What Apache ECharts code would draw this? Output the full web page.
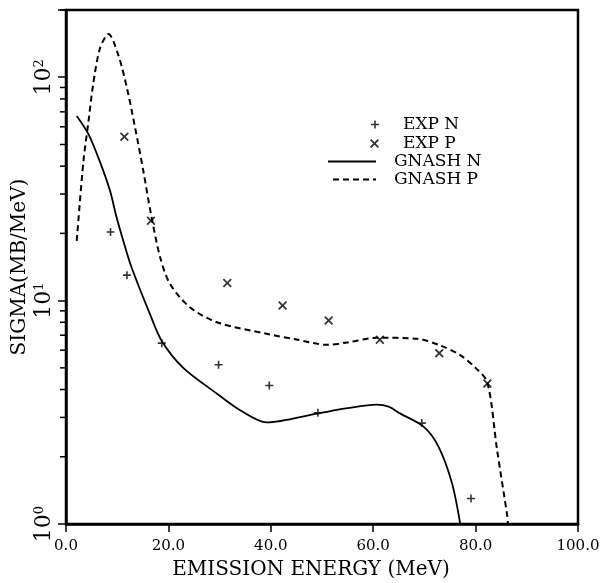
<!DOCTYPE html>
<html><head><meta charset="utf-8">
<script src="https://cdn.jsdelivr.net/npm/echarts@6/dist/echarts.min.js"></script>
<style>html,body{margin:0;padding:0;background:#fff}#c{width:607px;height:583px}</style>
</head><body><div id="c"></div>
<script>
// ---- data ----
const xTicks = [0, 20, 40, 60, 80, 100];
const yMajorTicks = [1, 10, 100];
const yMinorTicks = [2, 3, 4, 5, 6, 7, 8, 9, 20, 30, 40, 50, 60, 70, 80, 90, 200];

const expN_x = [8.7, 11.9, 18.7, 29.8, 39.7, 49.2, 69.5, 79.1];
const expN_y = [20.3, 13.0, 6.45, 5.16, 4.17, 3.15, 2.83, 1.30];

const expP_x = [11.4, 16.6, 31.5, 42.3, 51.3, 61.3, 72.9, 82.3];
const expP_y = [54.1, 22.8, 12.0, 9.5, 8.14, 6.68, 5.82, 4.26];

const gnashN_x = [2.1, 4.4, 6.6, 8.6, 9.8, 11.2, 12.8, 16.4, 18.7, 22.9, 29.5, 34.0, 39.2, 49.0, 55.0, 60.7, 63.0, 65.3, 69.9, 72.8, 75.4, 77.0];
const gnashN_y = [67, 55.5, 42, 31, 24.0, 18.5, 14.1, 8.7, 6.6, 5.0, 3.83, 3.23, 2.85, 3.12, 3.3, 3.42, 3.35, 3.12, 2.72, 2.21, 1.52, 1.0];

const gnashP_x = [2.1, 3.4, 4.4, 5.3, 6.65, 8.3, 10.2, 11.9, 13.5, 15.1, 16.6, 18.4, 20.3, 24.2, 29.5, 39.2, 45.0, 51.0, 55.0, 60.7, 68.6, 73.1, 77.0, 80.0, 82.3, 84.2, 86.2, 86.3];
const gnashP_y = [18.5, 42, 63.6, 92.8, 135, 156, 126, 89.6, 59.4, 38.1, 24.4, 15.6, 11.9, 9.34, 8.0, 7.1, 6.7, 6.34, 6.5, 6.82, 6.75, 6.3, 5.7, 5.0, 4.3, 2.14, 1.08, 1.0];

const seriesNames = ['EXP N', 'EXP P', 'GNASH N', 'GNASH P'];
// ---------------------------------------

const pairs = (xs, ys) => xs.map((x, i) => [x, ys[i]]);
const FONT = 'DejaVu Serif';
const plusPath = 'path://M4,0H6V4H10V6H6V10H4V6H0V4H4Z';
const timesPath = 'path://M0,1.4L1.4,0L5,3.6L8.6,0L10,1.4L6.4,5L10,8.6L8.6,10L5,6.4L1.4,10L0,8.6L3.6,5Z';
const yMin = yMajorTicks[0], yMax = yMinorTicks[yMinorTicks.length - 1];
const W = 607, H = 583;
const GRID = {left: 66, right: 29, top: 10, bottom: 59};

const chart = echarts.init(document.getElementById('c'), null, {renderer: 'canvas', width: W, height: H});

const legendBase = {
  orient: 'horizontal', padding: 0, selectedMode: false,
  textStyle: {fontFamily: FONT, fontSize: 17, color: '#000'}
};
const withText = (pad) => Object.assign({}, legendBase.textStyle, {padding: [0, 0, 0, pad]});

chart.setOption({
  animation: false,
  backgroundColor: '#fff',
  grid: Object.assign({show: true, borderColor: '#000', borderWidth: 2.5, containLabel: false, outerBoundsMode: 'none'}, GRID),
  xAxis: {
    type: 'value', min: xTicks[0], max: xTicks[xTicks.length - 1], interval: 20,
    axisLine: {lineStyle: {color: '#000', width: 2.5}},
    axisTick: {show: true, length: 8, lineStyle: {color: '#000', width: 1.5}},
    axisLabel: {formatter: v => v.toFixed(1), fontFamily: FONT, fontSize: 15, color: '#000', margin: 15},
    splitLine: {show: false},
    name: 'EMISSION ENERGY (MeV)', nameLocation: 'middle', nameGap: 36, nameMoveOverlap: false,
    nameTextStyle: {fontFamily: FONT, fontSize: 20, color: '#000', padding: [0, 22, 0, 0]}
  },
  yAxis: {
    type: 'log', logBase: 10, min: yMin, max: yMax, position: 'left',
    axisLine: {show: true, lineStyle: {color: '#000', width: 2.5}},
    axisTick: {show: true, length: 8, lineStyle: {color: '#000', width: 1.5}},
    axisLabel: {
      customValues: yMajorTicks, rotate: 90, margin: 11, color: '#000',
      formatter: v => '{b|10}{s|' + Math.round(Math.log10(v)) + '}',
      rich: {
        b: {fontFamily: FONT, fontSize: 22, color: '#000', verticalAlign: 'bottom', lineHeight: 22},
        s: {fontFamily: FONT, fontSize: 13, color: '#000', verticalAlign: 'top', lineHeight: 22}
      }
    },
    splitLine: {show: false},
    name: 'SIGMA(MB/MeV)', nameLocation: 'middle', nameGap: 36, nameMoveOverlap: false,
    nameTextStyle: {fontFamily: FONT, fontSize: 20, color: '#000'}
  },
  legend: [
    Object.assign({}, legendBase, {data: [seriesNames[0]], left: 371, top: 116, itemWidth: 8, itemHeight: 8, textStyle: withText(19)}),
    Object.assign({}, legendBase, {data: [seriesNames[1]], left: 370, top: 135, itemWidth: 9, itemHeight: 9, textStyle: withText(19)}),
    Object.assign({}, legendBase, {data: [seriesNames[2]], left: 327, top: 153, itemWidth: 48, itemHeight: 14, textStyle: withText(13),
      itemStyle: {opacity: 0}}),
    Object.assign({}, legendBase, {data: [seriesNames[3]], left: 332, top: 171, itemWidth: 43, itemHeight: 14, textStyle: withText(13),
      itemStyle: {opacity: 0}})
  ],
  series: [{
    name: seriesNames[0], type: 'scatter', data: pairs(expN_x, expN_y),
    symbol: plusPath, symbolSize: 8, itemStyle: {color: '#000'}
  }, {
    name: seriesNames[1], type: 'scatter', data: pairs(expP_x, expP_y),
    symbol: timesPath, symbolSize: 9, itemStyle: {color: '#000'}
  }, {
    name: seriesNames[2], type: 'line', data: pairs(gnashN_x, gnashN_y),
    symbol: 'none', showSymbol: false, smooth: 0.3,
    lineStyle: {color: '#000', width: 1.8, type: 'solid'}, itemStyle: {color: '#000'}
  }, {
    name: seriesNames[3], type: 'line', data: pairs(gnashP_x, gnashP_y),
    symbol: 'none', showSymbol: false, smooth: 0.3,
    lineStyle: {color: '#000', width: 2, type: [6, 4]}, itemStyle: {color: '#000'}
  }]
});

// Minor ticks of the log axis (2..9 in each decade), positioned through the chart's own coordinate system.
function tickPos(v) {
  let p = null;
  try { p = chart.convertToPixel({gridIndex: 0}, [xTicks[0], v]); } catch (e) { p = null; }
  if (p && isFinite(p[0]) && isFinite(p[1])) return p;
  // fallback: same log mapping as the axis, over the grid rectangle
  const top = GRID.top, bottom = H - GRID.bottom;
  const t = (Math.log10(v) - Math.log10(yMin)) / (Math.log10(yMax) - Math.log10(yMin));
  return [GRID.left, bottom - t * (bottom - top)];
}
const tickEls = yMinorTicks.map(v => {
  const p = tickPos(v);
  return {
    type: 'rect', silent: true, z: 100,
    shape: {x: p[0] - 6, y: p[1] - 0.75, width: 6, height: 1.5},
    style: {fill: '#000'}
  };
});
chart.setOption({graphic: {elements: tickEls}});
</script></body></html>
